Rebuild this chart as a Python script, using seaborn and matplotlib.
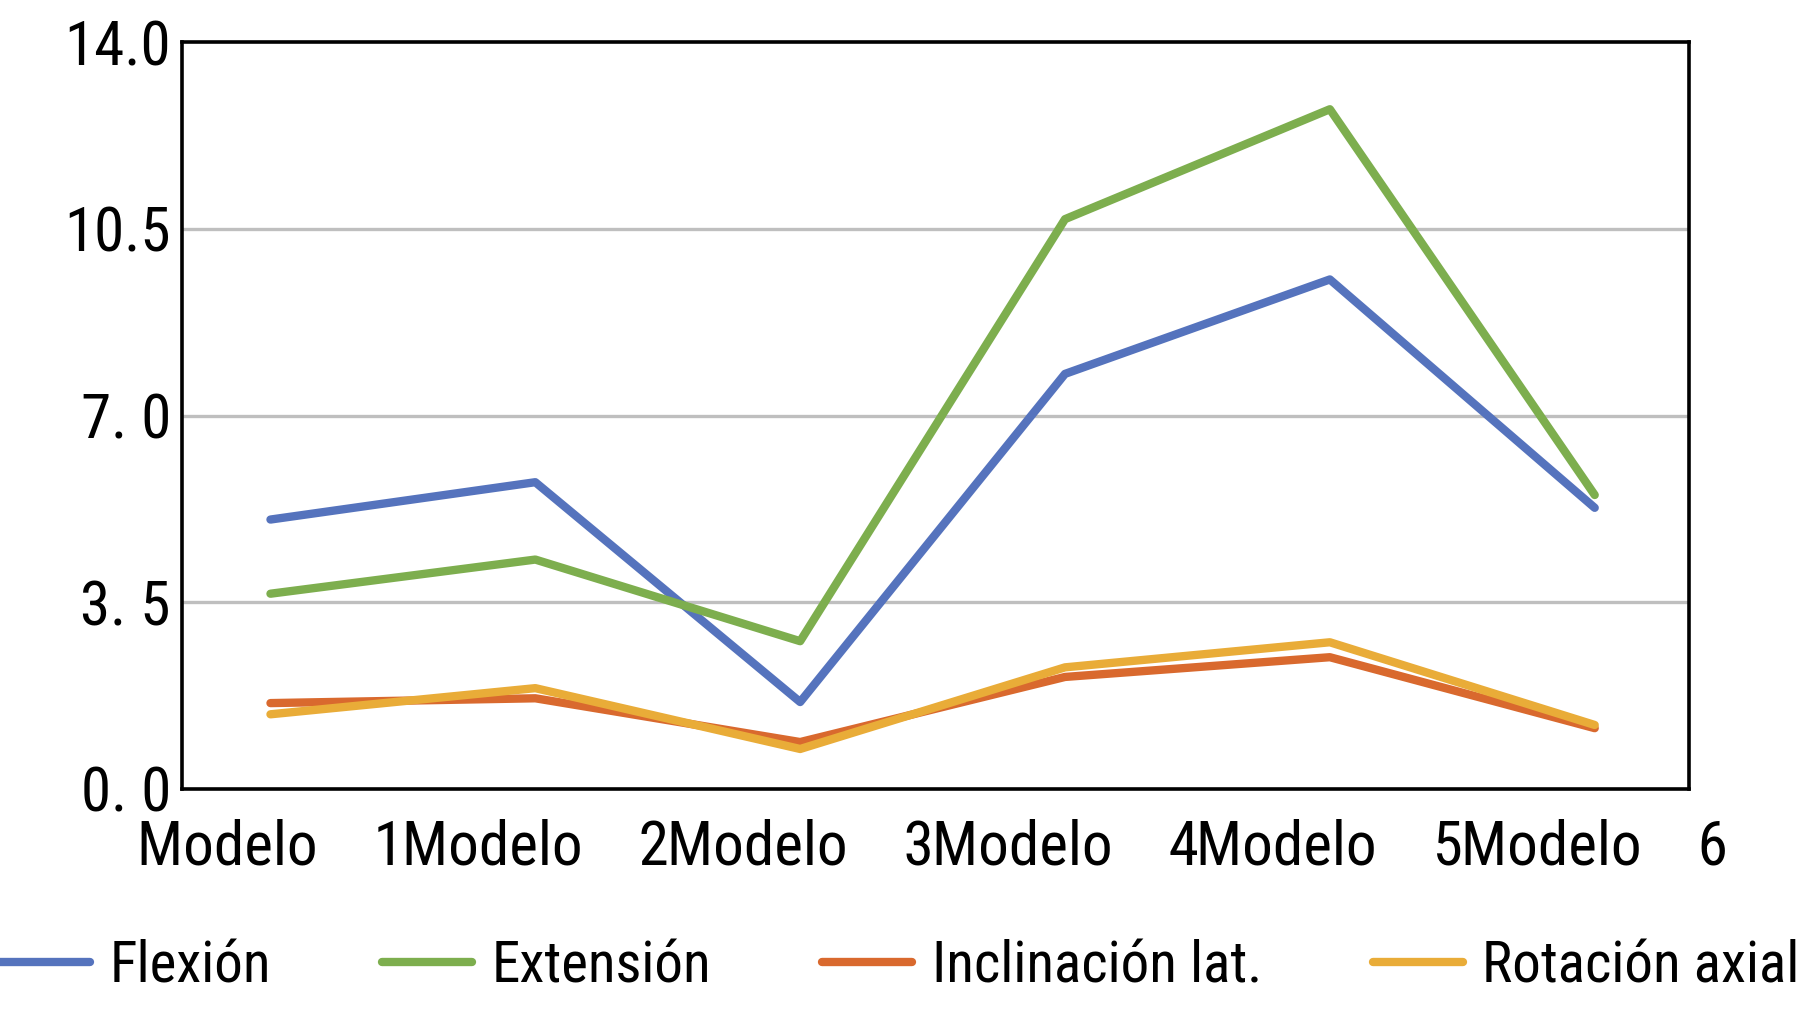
import matplotlib
matplotlib.use("Agg")
import matplotlib.pyplot as plt
import seaborn as sns
import pandas as pd
from matplotlib import font_manager
from matplotlib.lines import Line2D

# ---- data ----
modelos = ["Modelo 1", "Modelo 2", "Modelo 3", "Modelo 4", "Modelo 5", "Modelo 6"]
flexion = [5.05, 5.75, 1.63, 7.78, 9.55, 5.27]
extension = [3.66, 4.30, 2.77, 10.68, 12.74, 5.51]
inclinacion = [1.61, 1.70, 0.88, 2.10, 2.47, 1.14]
rotacion = [1.40, 1.89, 0.75, 2.28, 2.75, 1.20]
series_names = ["Flexión", "Extensión", "Inclinación lat.", "Rotación axial"]
y_ticks = [0.0, 3.5, 7.0, 10.5, 14.0]
y_ticklabels = ["0. 0", "3. 5", "7. 0", "10.5", "14.0"]

colors = ["#5573BD", "#7DAE4E", "#D9692E", "#E9AC38"]

sns.set_theme(style="white")
names = {f.name for f in font_manager.fontManager.ttflist}
fam = "Liberation Sans"
for cand in ["Roboto Condensed", "Archivo Narrow", "PT Sans Narrow", "Liberation Sans Narrow",
             "Arial Narrow", "Pragati Narrow", "Liberation Sans"]:
    if cand in names:
        fam = cand
        break
plt.rcParams["font.family"] = [fam, "DejaVu Sans"]
plt.rcParams["text.color"] = "black"

rows = []
for name, vals in zip(series_names, [flexion, extension, inclinacion, rotacion]):
    for i, v in enumerate(vals):
        rows.append({"x": i, "valor": v, "serie": name})
df = pd.DataFrame(rows)

fig = plt.figure(figsize=(18, 10.09), dpi=100)
ax = fig.add_axes([182 / 1800, 1 - 789 / 1009, (1689 - 182) / 1800, (789 - 42) / 1009])

sns.lineplot(data=df, x="x", y="valor", hue="serie", hue_order=series_names,
             palette=colors, linewidth=6, ax=ax, legend=False)

ax.set_xlim(-0.334, 5.356)
ax.set_ylim(0, 14)
ax.set_yticks(y_ticks)
ax.set_yticklabels(y_ticklabels)
ax.set_xticks(range(len(modelos)))
xlabels = [m.replace(" ", " " * 4) for m in modelos]
ax.set_xticklabels(xlabels)
ax.tick_params(axis="both", labelsize=44, length=0, colors="black")
ax.tick_params(axis="y", pad=8)
ax.tick_params(axis="x", pad=21)
ax.set_xlabel("")
ax.set_ylabel("")

for g in [3.5, 7.0, 10.5]:
    ax.axhline(g, color="#BFBFBF", linewidth=2.4, zorder=0)

for sp in ax.spines.values():
    sp.set_visible(True)
    sp.set_color("black")
    sp.set_linewidth(2.6)

handles = [Line2D([0], [0], color=c, linewidth=6) for c in colors]
leg = fig.legend(handles, series_names, loc="center", bbox_to_anchor=(0.5, 0.042),
                 ncol=4, frameon=False, fontsize=41, handlelength=1.58,
                 handletextpad=0.34, columnspacing=1.95, borderpad=0, borderaxespad=0,
                 labelcolor="black")

fig.savefig("out.png", dpi=100)
